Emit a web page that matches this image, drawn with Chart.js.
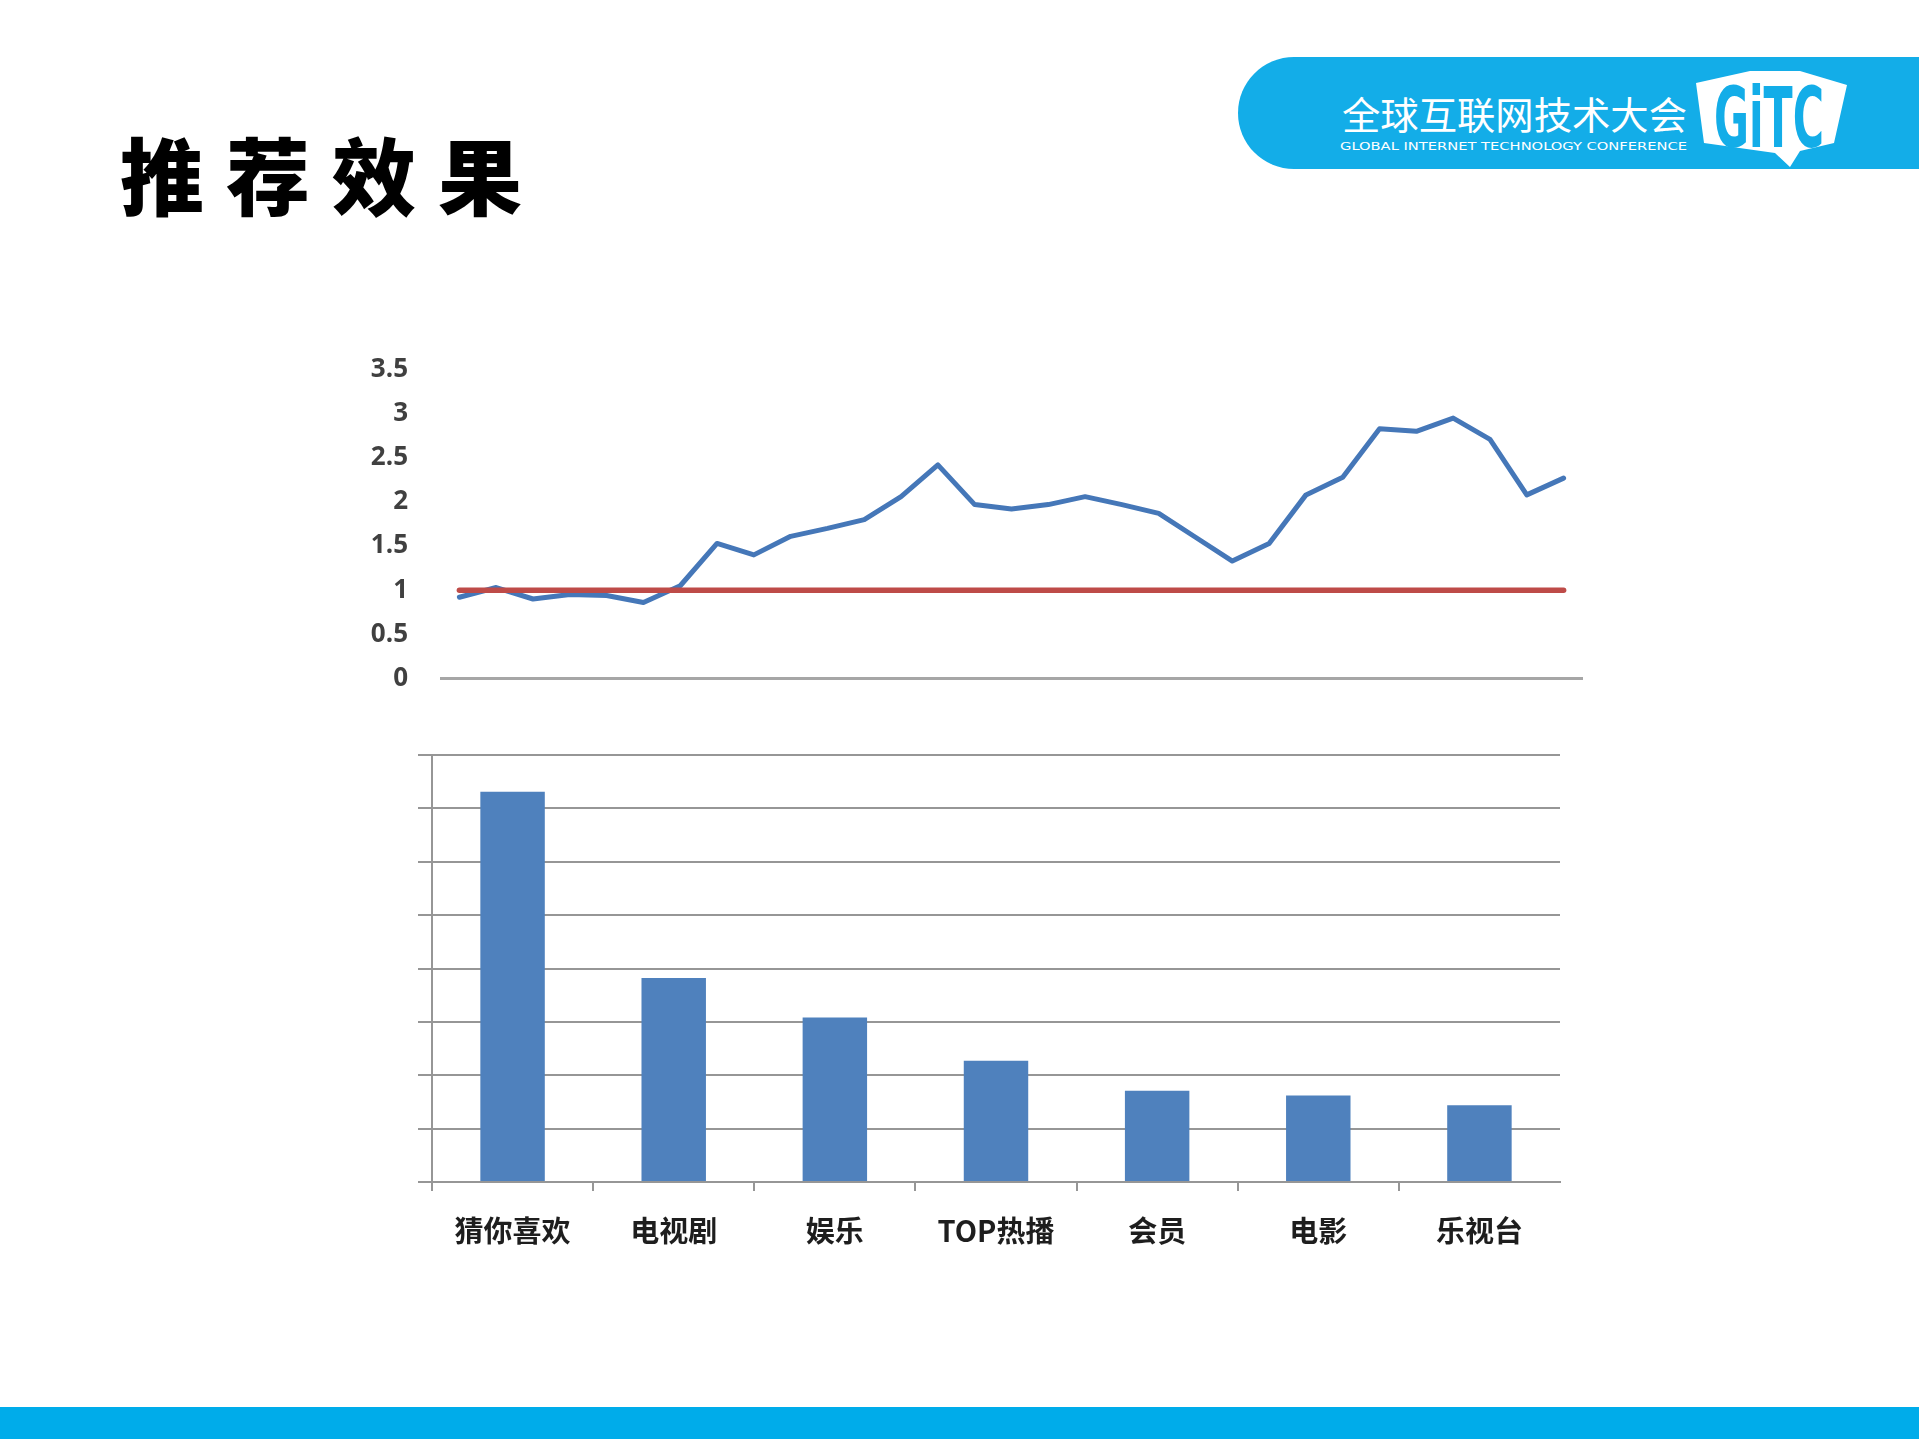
<!DOCTYPE html>
<html>
<head>
<meta charset="utf-8">
<script src="https://cdn.jsdelivr.net/npm/chart.js@4.4.0/dist/chart.umd.min.js"></script>
<style>
html,body{margin:0;padding:0;background:#fff;}
body{width:1919px;height:1439px;position:relative;overflow:hidden;font-family:"Noto Sans CJK SC",sans-serif;}
#title{position:absolute;left:120px;top:131px;font-size:84px;font-weight:900;letter-spacing:22px;line-height:1;color:#000;white-space:nowrap;}
#bottomBand{position:absolute;left:0;top:1407px;width:1919px;height:32px;background:#00ACEA;}
#logo{position:absolute;left:1238px;top:57px;}
#lineChart{position:absolute;left:330px;top:321px;}
#barChart{position:absolute;left:400px;top:730px;}
</style>
</head>
<body>
<div id="title">推荐效果</div>

<svg id="logo" width="681" height="112" viewBox="0 0 681 112">
  <path d="M56,0 H681 V112 H56 A56,56 0 0 1 56,0 Z" fill="#13ADE8"/>
  <text x="104" y="72" font-size="38" fill="#fff" font-family="Noto Sans CJK SC" textLength="345" lengthAdjust="spacingAndGlyphs">全球互联网技术大会</text>
  <text x="102" y="93" font-size="11" fill="#fff" font-family="DejaVu Sans Condensed, Liberation Sans" textLength="347" lengthAdjust="spacingAndGlyphs">GLOBAL INTERNET TECHNOLOGY CONFERENCE</text>
  <polygon points="458,26 512,14 562,14 609,28 596,86 562,94 552,110 537,96 466,86" fill="#fff"/>
  <text x="476" y="90" font-size="84" fill="#13ADE8" font-family="DejaVu Sans Condensed" font-weight="bold" textLength="110" lengthAdjust="spacingAndGlyphs">GiTC</text>
</svg>

<canvas id="lineChart" width="1272" height="406"></canvas>
<canvas id="barChart" width="1200" height="540"></canvas>

<div id="bottomBand"></div>

<script>
// ---------- Line chart data ----------
const days = ['1','2','3','4','5','6','7','8','9','10','11','12','13','14','15','16','17','18','19','20','21','22','23','24','25','26','27','28','29','30','31'];
const ratioValues = [0.92,1.03,0.90,0.95,0.94,0.86,1.05,1.53,1.40,1.61,1.70,1.80,2.06,2.42,1.97,1.92,1.97,2.06,1.97,1.87,1.60,1.33,1.53,2.08,2.28,2.83,2.80,2.95,2.71,2.08,2.27];
const baselineValues = [1,1,1,1,1,1,1,1,1,1,1,1,1,1,1,1,1,1,1,1,1,1,1,1,1,1,1,1,1,1,1];
const lineTickValues = [0,0.5,1,1.5,2,2.5,3,3.5];

// ---------- Bar chart data ----------
const channels = ['猜你喜欢','电视剧','娱乐','TOP热播','会员','电影','乐视台'];
const channelValues = [7.31,3.82,3.08,2.27,1.71,1.62,1.44];
const barTickValues = [0,1,2,3,4,5,6,7,8];

const gridGray = '#969696';

new Chart(document.getElementById('lineChart'), {
  type: 'line',
  data: {
    labels: days,
    datasets: [
      {
        data: ratioValues,
        borderColor: '#4577B8',
        borderWidth: 5,
        pointRadius: 0,
        tension: 0,
        borderJoinStyle: 'round',
        borderCapStyle: 'round',
        fill: false,
        order: 1
      },
      {
        data: baselineValues,
        borderColor: '#BE4B48',
        borderWidth: 5.5,
        pointRadius: 0,
        tension: 0,
        borderCapStyle: 'round',
        fill: false,
        order: 0
      }
    ]
  },
  options: {
    responsive: false,
    animation: false,
    events: [],
    layout: { padding: { left: 10, right: 20, top: 27, bottom: 22 } },
    plugins: { legend: { display: false }, tooltip: { enabled: false } },
    scales: {
      x: {
        type: 'category',
        offset: true,
        grid: { display: false, drawTicks: false },
        ticks: { display: false },
        border: { display: true, color: '#A6A6A6', width: 3 },
        afterFit: s => { s.height = 0; }
      },
      y: {
        min: 0,
        max: 3.5,
        afterBuildTicks: s => { s.ticks = lineTickValues.map(v => ({ value: v })); },
        grid: { display: false, drawTicks: false },
        border: { display: false },
        ticks: {
          padding: 33,
          color: '#404040',
          font: { family: 'Open Sans', size: 26, weight: 'bold' },
          callback: v => String(v)
        },
        afterFit: s => { s.width = 101; }
      }
    }
  }
});

new Chart(document.getElementById('barChart'), {
  type: 'bar',
  data: {
    labels: channels,
    datasets: [{
      data: channelValues,
      backgroundColor: '#4F81BD',
      borderWidth: 0,
      barPercentage: 0.4,
      categoryPercentage: 1.0
    }]
  },
  options: {
    responsive: false,
    animation: false,
    events: [],
    layout: { padding: { left: 18, right: 40, top: 25, bottom: 18 } },
    plugins: { legend: { display: false }, tooltip: { enabled: false } },
    scales: {
      x: {
        offset: true,
        grid: {
          display: true, offset: true, drawOnChartArea: false, drawTicks: true, tickLength: 9, lineWidth: 2,
          color: ctx => (ctx.type === 'tick' ? gridGray : 'rgba(0,0,0,0)')
        },
        border: { display: true, color: gridGray, width: 2 },
        ticks: {
          padding: 23,
          color: '#1E1E1E',
          font: { family: 'Noto Sans CJK SC', size: 29, weight: 'bold' }
        },
        afterFit: s => { s.height = 70; }
      },
      y: {
        min: 0,
        max: 8,
        afterBuildTicks: s => { s.ticks = barTickValues.map(v => ({ value: v })); },
        grid: { display: true, drawTicks: true, tickLength: 14, color: gridGray, lineWidth: 2 },
        border: { display: true, color: gridGray, width: 2 },
        ticks: { display: false },
        afterFit: s => { s.width = 14; }
      }
    }
  }
});
</script>
</body>
</html>
